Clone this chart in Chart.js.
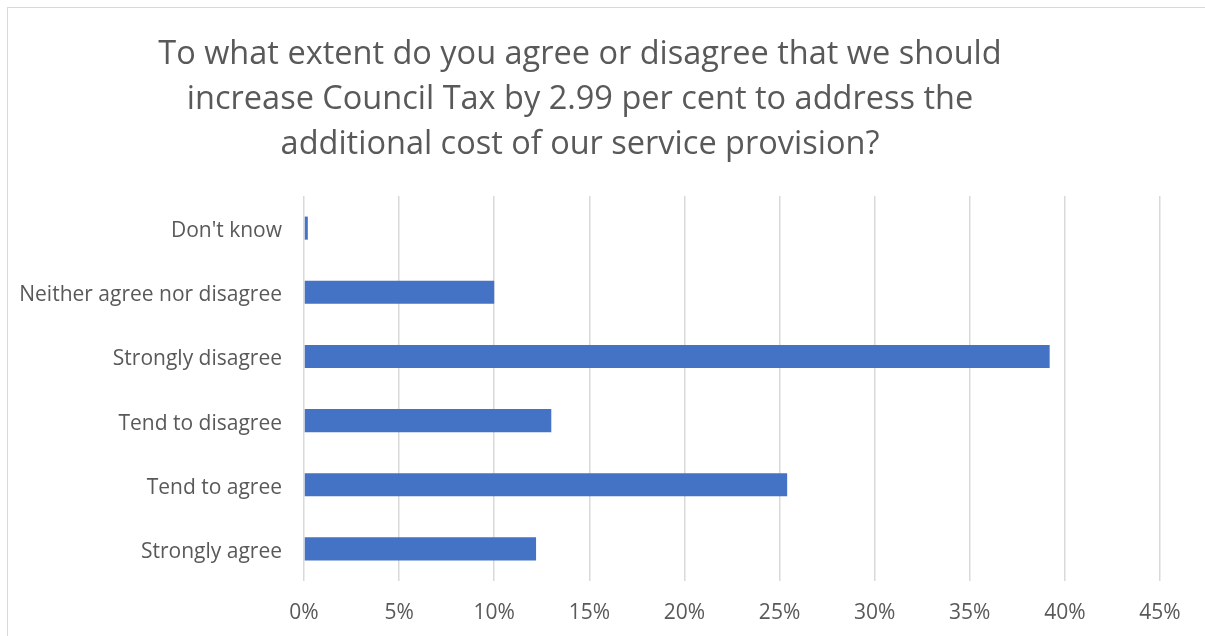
<!DOCTYPE html>
<html>
<head>
<meta charset="utf-8">
<script src="https://cdn.jsdelivr.net/npm/chart.js@4"></script>
<style>
  html, body { margin: 0; padding: 0; background: #fff; overflow: hidden; }
  #wrap { position: relative; width: 1205px; height: 636px; }
  #frame { position: absolute; left: 7px; top: 7px; width: 1220px; height: 650px;
           border: 1.5px solid #d9d9d9; pointer-events: none; }
</style>
</head>
<body>
<div id="wrap">
  <canvas id="grafico" width="1205" height="636"></canvas>
  <div id="frame"></div>
</div>
<script>
// Respuestas (de arriba a abajo)
const categorias = [
    "Don't know",
    "Neither agree nor disagree",
    "Strongly disagree",
    "Tend to disagree",
    "Tend to agree",
    "Strongly agree"
];

// Porcentaje de respuestas
const porcentajes = [0.2, 10.0, 39.2, 13.0, 25.4, 12.2];

// Marcas del eje X
const ticksX = [0, 5, 10, 15, 20, 25, 30, 35, 40, 45];

const titulo = [
    "To what extent do you agree or disagree that we should",
    "increase Council Tax by 2.99 per cent to address the",
    "additional cost of our service provision?"
];

const gris = "#595959";
const fuente = "'Open Sans', 'Liberation Sans', sans-serif";

new Chart(document.getElementById("grafico"), {
    type: "bar",
    data: {
        labels: categorias,
        datasets: [{
            data: porcentajes,
            backgroundColor: "#4472C4",
            categoryPercentage: 1,
            barPercentage: 0.36
        }]
    },
    options: {
        indexAxis: "y",
        responsive: false,
        animation: false,
        layout: { padding: { top: 32, right: 45, bottom: 12, left: 0 } },
        plugins: {
            legend: { display: false },
            tooltip: { enabled: false },
            title: {
                display: true,
                text: titulo,
                color: gris,
                font: { family: fuente, size: 32.5, weight: "normal", lineHeight: 1.385 },
                padding: { top: 0, bottom: 29 }
            }
        },
        scales: {
            x: {
                min: 0,
                max: 45,
                afterBuildTicks: axis => { axis.ticks = ticksX.map(v => ({ value: v })); },
                afterFit: axis => { axis.height = 43; },
                ticks: {
                    color: gris,
                    font: { family: fuente, size: 21 },
                    padding: 19,
                    callback: v => v + "%"
                },
                grid: { color: "#d9d9d9", lineWidth: 1.5, drawTicks: false },
                border: { display: false }
            },
            y: {
                afterFit: axis => { axis.width = 304; },
                ticks: {
                    color: gris,
                    font: { family: fuente, size: 21 },
                    padding: 14,
                    labelOffset: 3
                },
                grid: { display: false },
                border: { display: false }
            }
        }
    }
});
</script>
</body>
</html>
